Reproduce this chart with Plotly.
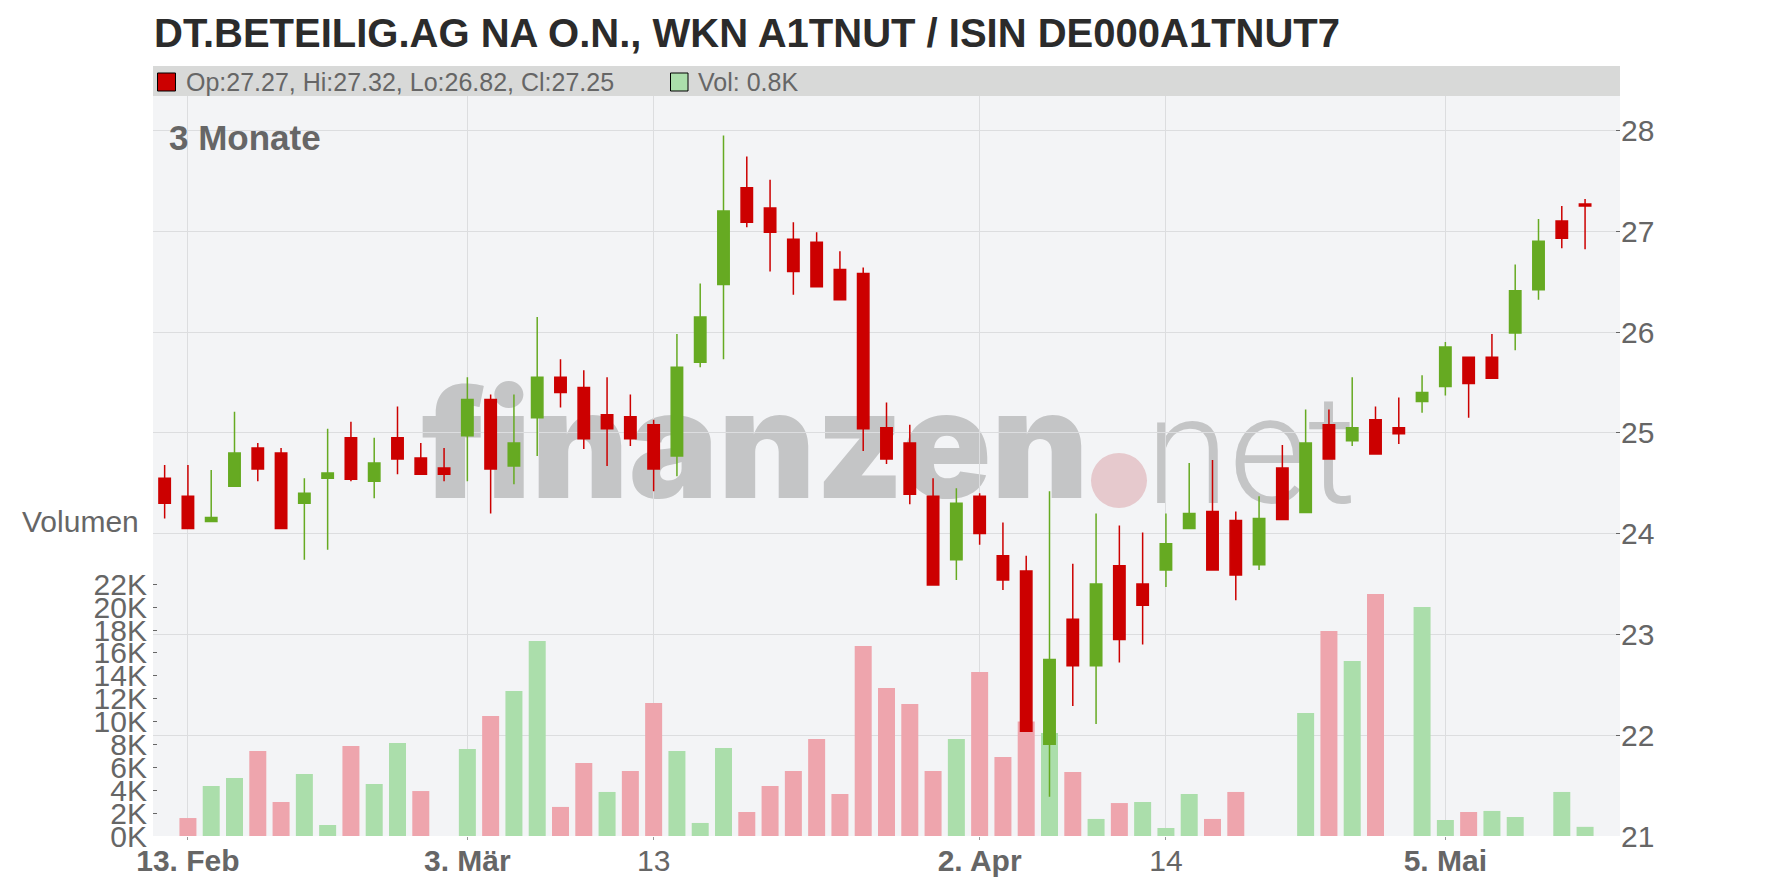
import plotly.graph_objects as go

# ---------------- data ----------------
dates = [
    "2025-02-12", "2025-02-13", "2025-02-14", "2025-02-17", "2025-02-18", "2025-02-19",
    "2025-02-20", "2025-02-21", "2025-02-24", "2025-02-25", "2025-02-26", "2025-02-27",
    "2025-02-28", "2025-03-03", "2025-03-04", "2025-03-05", "2025-03-06", "2025-03-07",
    "2025-03-10", "2025-03-11", "2025-03-12", "2025-03-13", "2025-03-14", "2025-03-17",
    "2025-03-18", "2025-03-19", "2025-03-20", "2025-03-21", "2025-03-24", "2025-03-25",
    "2025-03-26", "2025-03-27", "2025-03-28", "2025-03-31", "2025-04-01", "2025-04-02",
    "2025-04-03", "2025-04-04", "2025-04-07", "2025-04-08", "2025-04-09", "2025-04-10",
    "2025-04-11", "2025-04-14", "2025-04-15", "2025-04-16", "2025-04-17", "2025-04-22",
    "2025-04-23", "2025-04-24", "2025-04-25", "2025-04-28", "2025-04-29", "2025-04-30",
    "2025-05-02", "2025-05-05", "2025-05-06", "2025-05-07", "2025-05-08", "2025-05-09",
    "2025-05-12", "2025-05-13",
]
opens = [
    24.55, 24.37, 24.12, 24.47, 24.85, 24.80, 24.30, 24.55, 24.95, 24.52, 24.95, 24.75,
    24.65, 24.97, 25.33, 24.67, 25.15, 25.55, 25.45, 25.18, 25.16, 25.08, 24.77, 25.70,
    26.47, 27.43, 27.23, 26.92, 26.89, 26.62, 26.58, 25.05, 24.90, 24.37, 23.74, 24.37,
    23.78, 23.63, 21.91, 23.15, 22.69, 23.68, 23.50, 23.64, 24.05, 24.22, 24.13, 23.69,
    24.65, 24.21, 25.08, 24.92, 25.13, 25.05, 25.31, 25.46, 25.75, 25.75, 25.99, 26.42,
    27.10, 27.27,
]
highs = [
    24.68, 24.68, 24.63, 25.21, 24.90, 24.85, 24.55, 25.04, 25.11, 24.95, 25.26, 24.90,
    24.85, 25.55, 25.38, 25.38, 26.15, 25.73, 25.62, 25.55, 25.38, 25.13, 25.98, 26.48,
    27.95, 27.74, 27.51, 27.09, 26.99, 26.80, 26.64, 25.30, 25.08, 24.55, 24.45, 24.40,
    24.11, 23.78, 24.42, 23.70, 24.20, 24.08, 24.01, 24.20, 24.70, 24.73, 24.22, 24.37,
    24.88, 25.23, 25.23, 25.55, 25.26, 25.35, 25.57, 25.90, 25.75, 25.98, 26.67, 27.12,
    27.25, 27.32,
]
lows = [
    24.15, 24.05, 24.12, 24.47, 24.52, 24.05, 23.74, 23.84, 24.52, 24.35, 24.59, 24.59,
    24.52, 24.52, 24.20, 24.49, 24.77, 25.25, 24.84, 24.67, 24.87, 24.42, 24.57, 25.65,
    25.73, 27.04, 26.60, 26.37, 26.45, 26.32, 24.82, 24.69, 24.29, 23.49, 23.54, 23.89,
    23.44, 22.04, 21.39, 22.29, 22.11, 22.72, 22.90, 23.47, 24.05, 23.64, 23.34, 23.64,
    24.14, 24.21, 24.74, 24.87, 24.79, 24.89, 25.20, 25.37, 25.15, 25.54, 25.82, 26.32,
    26.83, 26.82,
]
closes = [
    24.30, 24.05, 24.16, 24.80, 24.64, 24.05, 24.40, 24.60, 24.54, 24.70, 24.74, 24.59,
    24.59, 25.33, 24.64, 24.90, 25.55, 25.40, 24.94, 25.04, 24.94, 24.64, 25.65, 26.15,
    27.20, 27.09, 26.99, 26.60, 26.45, 26.32, 25.04, 24.74, 24.39, 23.49, 24.30, 24.00,
    23.54, 22.04, 22.75, 22.69, 23.50, 22.95, 23.29, 23.90, 24.20, 23.64, 23.59, 24.15,
    24.14, 24.90, 24.74, 25.05, 24.79, 24.99, 25.40, 25.85, 25.49, 25.54, 26.41, 26.90,
    26.93, 27.25,
]
volumes = [
    0, 1570, 4370, 5070, 7430, 2970, 5420, 960, 7870, 4550, 8130, 3930,
    0, 7600, 10490, 12670, 17050, 2540, 6380, 3850, 5680, 11630, 7430, 1140,
    7690, 2100, 4370, 5680, 8480, 3670, 16610, 12940, 11540, 5680, 8480, 14340,
    6910, 10000, 9000, 5590, 1490, 2880, 2970, 700, 3670, 1490, 3850, 0,
    0, 10750, 17920, 15300, 21150, 0, 20020, 1400, 2100, 2190, 1660, 0,
    3850, 800,
]

tick_dates = ["2025-02-13", "2025-03-03", "2025-03-13", "2025-04-02", "2025-04-14", "2025-05-05"]
tick_labels = ["<b>13. Feb</b>", "<b>3. Mär</b>", "13", "<b>2. Apr</b>", "14", "<b>5. Mai</b>"]
price_ticks = [21, 22, 23, 24, 25, 26, 27, 28]
vol_ticks = [0, 2000, 4000, 6000, 8000, 10000, 12000, 14000, 16000, 18000, 20000, 22000]
vol_tick_labels = ["0K", "2K", "4K", "6K", "8K", "10K", "12K", "14K", "16K", "18K", "20K", "22K"]

title_text = "DT.BETEILIG.AG NA O.N., WKN A1TNUT / ISIN DE000A1TNUT7"
period_text = "3 Monate"

# ---------------- styling ----------------
W, H = 1776, 888
ML, MR, MT, MB = 153, 156, 96, 52
PW, PH = W - ML - MR, H - MT - MB
FONT = "Liberation Sans, Arial, sans-serif"
RED = "#cc0000"
GREEN = "#66aa22"
VOL_RED = "#eea5ad"
VOL_GREEN = "#abdeab"
GRID = "#dcdddf"
TXT = "#666666"
WM = "#c4c5c6"


def px(x):
    return (x - ML) / PW


def py(y):
    return (H - MB - y) / PH


vol_colors = [VOL_GREEN if i > 0 and closes[i] >= closes[i - 1] else VOL_RED
              for i in range(len(closes))]

fig = go.Figure()
fig.add_trace(go.Bar(
    x=dates, y=volumes, yaxis="y", marker=dict(color=vol_colors, line=dict(width=0)),
    width=0.73, hoverinfo="skip", showlegend=False,
))
fig.add_trace(go.Candlestick(
    x=dates, open=opens, high=highs, low=lows, close=closes, yaxis="y2",
    increasing=dict(line=dict(color=GREEN, width=1.5), fillcolor=GREEN),
    decreasing=dict(line=dict(color=RED, width=1.5), fillcolor=RED),
    whiskerwidth=0, showlegend=False,
))

last = len(closes) - 1
header = "Op:%.2f, Hi:%.2f, Lo:%.2f, Cl:%.2f" % (opens[last], highs[last], lows[last], closes[last])
vol_header = "Vol: %.1fK" % (volumes[last] / 1000)

shapes = [
    # header bar
    dict(type="rect", xref="paper", yref="paper", x0=0, x1=1, y0=1, y1=py(66),
         fillcolor="#d8d9d8", line=dict(width=0), layer="above"),
    dict(type="rect", xref="paper", yref="paper", x0=px(157.5), x1=px(175.5),
         y0=py(91), y1=py(73), fillcolor=RED if closes[last] < opens[last] else GREEN,
         line=dict(color="black", width=1)),
    dict(type="rect", xref="paper", yref="paper", x0=px(670.5), x1=px(688),
         y0=py(91), y1=py(73), fillcolor=VOL_GREEN, line=dict(color="black", width=1)),
    # watermark
    dict(type="rect", xref="paper", yref="paper", x0=px(400), x1=px(1110), y0=py(528), y1=py(348),
         fillcolor="rgba(0,0,0,0)", line=dict(width=0), layer="below",
         label=dict(text="finanzen", textposition="middle center",
                    font=dict(family="Inter, Roboto, Liberation Sans, sans-serif", size=150,
                              color=WM, weight=900))),
    dict(type="circle", xref="paper", yref="paper", x0=px(1091), x1=px(1147), y0=py(508), y1=py(453),
         fillcolor="#e6c9cd", line=dict(width=0), layer="below"),
    dict(type="rect", xref="paper", yref="paper", x0=px(1150), x1=px(1352), y0=py(530), y1=py(350),
         fillcolor="rgba(0,0,0,0)", line=dict(width=0), layer="below",
         label=dict(text="net", textposition="middle center",
                    font=dict(family="Roboto, Liberation Sans, sans-serif",
                              size=152, color=WM, weight=300))),
]

annotations = [
    dict(text="<b>" + title_text + "</b>", xref="paper", yref="paper", x=px(152), y=py(33),
         xanchor="left", yanchor="middle", showarrow=False,
         font=dict(family=FONT, size=40, color="#2b2b2b")),
    dict(text=header, xref="paper", yref="paper", x=px(184), y=py(82),
         xanchor="left", yanchor="middle", showarrow=False,
         font=dict(family=FONT, size=25, color=TXT)),
    dict(text=vol_header, xref="paper", yref="paper", x=px(696), y=py(82),
         xanchor="left", yanchor="middle", showarrow=False,
         font=dict(family=FONT, size=25, color=TXT)),
    dict(text="<b>" + period_text + "</b>", xref="paper", yref="paper", x=px(167), y=py(137),
         xanchor="left", yanchor="middle", showarrow=False,
         font=dict(family=FONT, size=35, color=TXT)),
    dict(text="Volumen", xref="paper", yref="paper", x=px(141), y=py(521),
         xanchor="right", yanchor="middle", showarrow=False,
         font=dict(family=FONT, size=30, color=TXT)),
]

fig.update_layout(
    width=W, height=H,
    margin=dict(l=ML, r=MR, t=MT, b=MB, pad=0, autoexpand=False),
    paper_bgcolor="white", plot_bgcolor="#f3f4f6",
    showlegend=False, boxgap=0.3, bargap=0.27,
    font=dict(family=FONT, color=TXT),
    shapes=shapes, annotations=annotations,
    xaxis=dict(
        type="category", categoryorder="array", categoryarray=dates,
        range=[-0.5, len(dates) + 0.5], automargin=False,
        tickvals=tick_dates, ticktext=tick_labels, tickangle=0,
        showgrid=True, gridcolor=GRID, gridwidth=1,
        ticks="outside", ticklen=3, tickcolor="#999999", ticklabelstandoff=-5,
        tickfont=dict(family=FONT, size=30, color=TXT),
        showline=False, zeroline=False, rangeslider=dict(visible=False),
    ),
    yaxis=dict(
        side="left", range=[0, PH / 11.44 * 1000], automargin=False,
        tickvals=vol_ticks, ticktext=vol_tick_labels,
        showgrid=False, zeroline=False, showline=False,
        ticks="inside", ticklen=4, tickcolor="#666666", ticklabelstandoff=5,
        tickfont=dict(family=FONT, size=30, color=TXT),
    ),
    yaxis2=dict(
        overlaying="y", side="right", range=[21, 21 + PH / 100.8], automargin=False,
        tickvals=price_ticks,
        showgrid=True, gridcolor=GRID, gridwidth=1, zeroline=False, showline=False,
        ticks="inside", ticklen=4, tickcolor="#666666",
        tickfont=dict(family=FONT, size=30, color=TXT),
    ),
)

fig.write_html(
    "out.html",
    config={"displayModeBar": False},
    post_script="document.body.style.margin='0px';document.body.style.overflow='hidden';",
)
